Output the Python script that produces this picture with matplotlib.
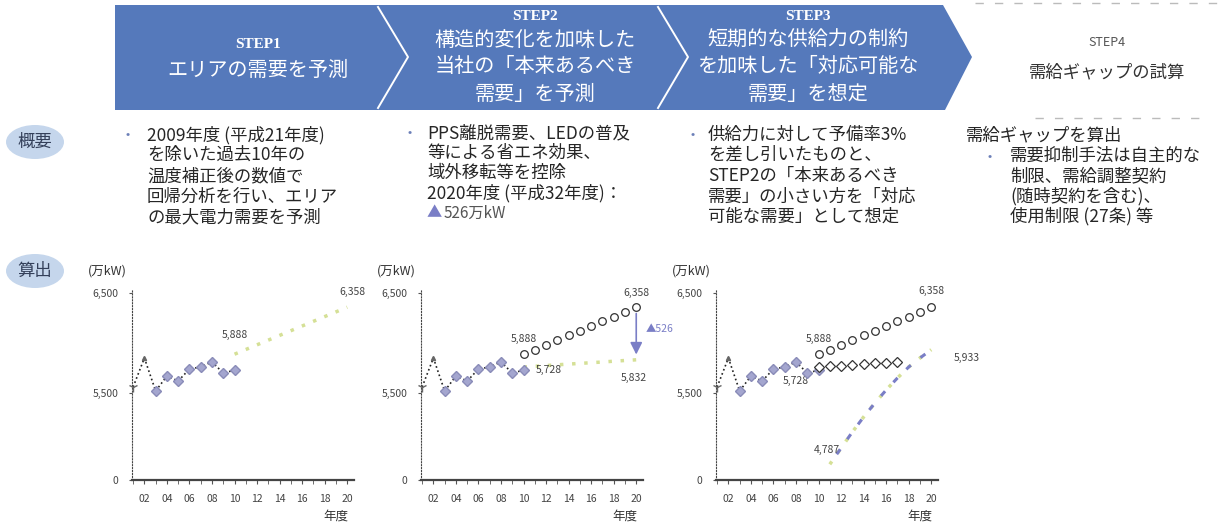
import matplotlib.pyplot as plt
from matplotlib.patches import Polygon, Ellipse

plt.rcParams['font.family'] = ['Noto Sans CJK JP', 'DejaVu Sans']

W, H = 1222, 528

# 実績（温度補正後の最大電力需要, 万kW）
actual_years = [2001, 2002, 2003, 2004, 2005, 2006, 2007, 2008, 2009, 2010]
actual_peak = [5560, 5850, 5520, 5670, 5620, 5740, 5760, 5810, 5700, 5728]

# STEP1 回帰による需要予測 / STEP2 構造的変化を加味した需要
forecast_years = [2010, 2011, 2012, 2013, 2014, 2015, 2016, 2017, 2018, 2019, 2020]
base_forecast = [5888, 5935, 5982, 6029, 6076, 6123, 6170, 6217, 6264, 6311, 6358]
adjusted_demand = [5760, 5767, 5774, 5782, 5789, 5796, 5803, 5810, 5818, 5825, 5832]

# STEP3 供給力（予備率控除後）と対応可能な需要
supply_years = [2011, 2012, 2013, 2014, 2015, 2016, 2017, 2018, 2019, 2020]
supply_limit = [4787, 4950, 5110, 5260, 5400, 5530, 5650, 5760, 5850, 5933]
feasible_years = [2010, 2011, 2012, 2013, 2014, 2015, 2016, 2017]
feasible_demand = [5760, 5767, 5774, 5782, 5789, 5796, 5803, 5810]

tick_years = [2002, 2004, 2006, 2008, 2010, 2012, 2014, 2016, 2018, 2020]
y_bottom, y_mid, y_top = 4630, 5500, 6500

BAND = '#5579bb'
DIAMOND = '#a4a6cf'
GREEN = '#d5e096'
ARROW = '#7a7ec6'
TXT = '#262626'

fig = plt.figure(figsize=(W / 100, H / 100), dpi=100)
bg = fig.add_axes([0, 0, 1, 1])
bg.set_xlim(0, W)
bg.set_ylim(H, 0)
bg.axis('off')

# chevron band
bg.add_patch(Polygon([(115, 5), (943, 5), (972, 57), (945, 110), (115, 110)],
                     closed=True, fc=BAND, ec='none'))
for x0 in (378, 658):
    bg.plot([x0, x0 + 30, x0], [7, 57, 108], color='white', lw=1.4)

serif = ['Liberation Serif', 'DejaVu Serif']
bg.text(258, 45, 'STEP1', color='white', fontsize=11, fontweight='bold',
        family=serif, ha='center', va='center')
bg.text(258, 70, 'エリアの需要を予測', color='white', fontsize=14.5,
        ha='center', va='center')
bg.text(535, 16, 'STEP2', color='white', fontsize=11, fontweight='bold',
        family=serif, ha='center', va='center')
for y, s in zip((40, 66, 94), ('構造的変化を加味した', '当社の「本来あるべき', '需要」を予測')):
    bg.text(535, y, s, color='white', fontsize=14.5, ha='center', va='center')
bg.text(808, 16, 'STEP3', color='white', fontsize=11, fontweight='bold',
        family=serif, ha='center', va='center')
for y, s in zip((40, 66, 94), ('短期的な供給力の制約', 'を加味した「対応可能な', '需要」を想定')):
    bg.text(808, y, s, color='white', fontsize=14.5, ha='center', va='center')

bg.text(1107, 43, 'STEP4', color='#555555', fontsize=9, ha='center', va='center')
bg.text(1107, 72, '需給ギャップの試算', color='#333333', fontsize=12.5,
        ha='center', va='center')
bg.plot([975, 1222], [3, 3], color='#bbbbbb', lw=1, ls=(0, (6, 8)))
bg.plot([1035, 1200], [118, 118], color='#bbbbbb', lw=1, ls=(0, (6, 8)))

# row badges
for y, s in ((142, '概要'), (271, '算出')):
    bg.add_patch(Ellipse((35, y), 58, 34, fc='#bfd2ea', ec='none', alpha=0.9))
    bg.text(35, y, s, color='#34405a', fontsize=12.5, ha='center', va='center')

# description columns
col_text = [
    (128, 147, [135, 155, 176, 197, 217],
     ['2009年度 (平成21年度)', 'を除いた過去10年の', '温度補正後の数値で',
      '回帰分析を行い、エリア', 'の最大電力需要を予測']),
    (410, 427, [133, 153, 173, 193, 213],
     ['PPS離脱需要、LEDの普及', '等による省エネ効果、', '域外移転等を控除',
      '2020年度 (平成32年度)：', '']),
    (693, 708, [135, 155, 176, 197, 217],
     ['供給力に対して予備率3%', 'を差し引いたものと、', 'STEP2の「本来あるべき',
      '需要」の小さい方を「対応', '可能な需要」として想定']),
]
for bx, tx, ys, lines in col_text:
    bg.text(bx, ys[0], '•', color='#6b7fb8', fontsize=9, ha='center', va='center')
    for y, s in zip(ys, lines):
        bg.text(tx, y, s, color=TXT, fontsize=12.5, ha='left', va='center')

reduction = base_forecast[-1] - adjusted_demand[-1]
bg.text(427, 213, '▲', color=ARROW, fontsize=11, ha='left', va='center')
bg.text(444, 213, f'{reduction}万kW', color='#555555', fontsize=11, ha='left', va='center')

bg.text(966, 135, '需給ギャップを算出', color=TXT, fontsize=12.5, ha='left', va='center')
bg.text(990, 156, '•', color='#6b7fb8', fontsize=9, ha='center', va='center')
for y, s in zip((156, 176, 196, 216),
                ('需要抑制手法は自主的な', '制限、需給調整契約', '(随時契約を含む)、', '使用制限 (27条) 等')):
    bg.text(1010, y, s, color=TXT, fontsize=12.5, ha='left', va='center')


def make_chart(left):
    ax = fig.add_axes([left / W, 1 - 480 / H, 222 / W, 190 / H])
    ax.set_xlim(2000.9, 2020.6)
    ax.set_ylim(y_bottom, y_top + 30)
    ax.patch.set_alpha(0)
    for side in ('top', 'right'):
        ax.spines[side].set_visible(False)
    ax.spines['left'].set_linestyle(':')
    ax.spines['left'].set_color('#444444')
    ax.spines['bottom'].set_linewidth(1.6)
    ax.spines['bottom'].set_color('#444444')
    ax.set_xticks(tick_years)
    ax.set_xticklabels([f'{y % 100:02d}' for y in tick_years])
    ax.set_xticks(range(2001, 2021), minor=True)
    ax.tick_params(axis='x', which='both', length=3, color='#555555',
                   labelsize=7.5, labelcolor='#444444', pad=7)
    ax.set_yticks([y_bottom, y_mid, y_top])
    ax.set_yticklabels(['0', f'{y_mid:,}', f'{y_top:,}'])
    ax.tick_params(axis='y', length=2, color='#555555', labelsize=7.5,
                   labelcolor='#444444', pad=8)
    ax.text(-0.2, 1.1, '(万kW)', transform=ax.transAxes, fontsize=9,
            color='#333333', ha='left', va='center')
    ax.text(0.92, -0.19, '年度', transform=ax.transAxes, fontsize=9,
            color='#333333', ha='center', va='center')

    ax.plot(actual_years, actual_peak, ls=':', color='#222222', lw=1.2,
            zorder=3, clip_on=False)
    ax.plot(actual_years[2:], actual_peak[2:], 'D', ms=5, mfc=DIAMOND,
            mec='#8a8cb8', ls='none', zorder=4, clip_on=False)
    ax.plot(actual_years[0], actual_peak[0], marker='1', ms=7, color='#666666',
            zorder=4, clip_on=False)
    ax.plot(actual_years[1], actual_peak[1], marker='^', ms=3, color='#666666',
            zorder=4, clip_on=False)
    return ax


def value_label(ax, x, y, dx, dy, ha='center', color='#444444'):
    ax.annotate(f'{y:,}', (x, y), xytext=(dx, dy), textcoords='offset points',
                ha=ha, va='center', fontsize=7.5, color=color, annotation_clip=False)


# STEP1
ax1 = make_chart(132)
ax1.plot(forecast_years, base_forecast, ls=(0, (1, 2.5)), lw=2.5, color=GREEN,
         zorder=2, clip_on=False)
value_label(ax1, forecast_years[0], base_forecast[0], 0, 14)
value_label(ax1, forecast_years[-1], base_forecast[-1], 4, 11)

# STEP2
ax2 = make_chart(421)
ax2.plot(forecast_years, adjusted_demand, ls=(0, (1, 2.5)), lw=2.5, color=GREEN,
         zorder=2, clip_on=False)
ax2.plot(forecast_years, base_forecast, 'o', ms=5.5, mfc='white', mec='#333333',
         mew=0.9, ls='none', zorder=4, clip_on=False)
ax2.annotate('', xy=(forecast_years[-1], adjusted_demand[-1] + 25),
             xytext=(forecast_years[-1], base_forecast[-1] - 35),
             arrowprops=dict(arrowstyle='-|>', color=ARROW, lw=1.2,
                             mutation_scale=18), annotation_clip=False)
ax2.text(forecast_years[-1] + 0.8, (base_forecast[-1] + adjusted_demand[-1]) / 2 + 40,
         f'▲{reduction}', color=ARROW, fontsize=7.5, ha='left', va='center')
value_label(ax2, forecast_years[0], base_forecast[0], 0, 11)
value_label(ax2, forecast_years[-1], base_forecast[-1], 0, 10)
value_label(ax2, actual_years[-1], actual_peak[-1], 9, 0, ha='left')
value_label(ax2, forecast_years[-1], adjusted_demand[-1], -2, -13)

# STEP3
ax3 = make_chart(716)
ax3.plot(supply_years, supply_limit, ls=(0, (1, 3)), lw=2.5, color=GREEN,
         zorder=2, clip_on=False)
ax3.plot(supply_years, supply_limit, ls=(2, (2, 4)), lw=2.2, color=ARROW,
         zorder=2, clip_on=False)
ax3.plot(forecast_years, base_forecast, 'o', ms=5.5, mfc='white', mec='#333333',
         mew=0.9, ls='none', zorder=4, clip_on=False)
ax3.plot(feasible_years, feasible_demand, 'D', ms=5, mfc='white', mec='#333333',
         mew=0.9, ls='none', zorder=4, clip_on=False)
value_label(ax3, forecast_years[0], base_forecast[0], 0, 11)
value_label(ax3, forecast_years[-1], base_forecast[-1], 0, 12)
value_label(ax3, actual_years[-1], actual_peak[-1], -7, -8, ha='right')
value_label(ax3, supply_years[0], supply_limit[0], -2, 10)
value_label(ax3, supply_years[-1], supply_limit[-1], 16, -6, ha='left')

fig.savefig('out.png', dpi=100, facecolor='white')
